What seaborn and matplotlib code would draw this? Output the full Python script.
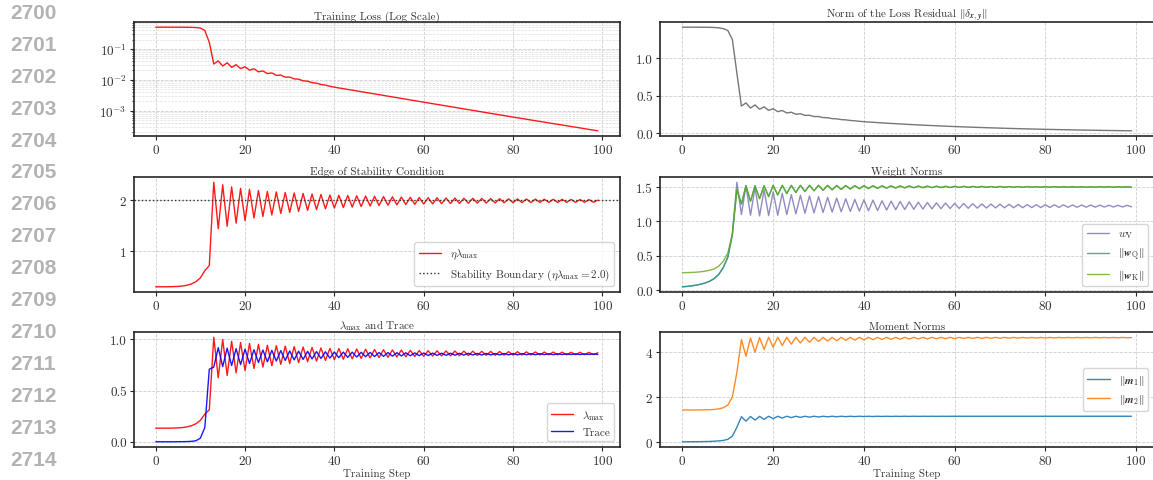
import io
import matplotlib
matplotlib.use("Agg")
import matplotlib.pyplot as plt
from matplotlib import mathtext
from matplotlib.ticker import LogLocator, NullFormatter, FixedLocator
import numpy as np
import pandas as pd
import seaborn as sns

# ---------------- data ----------------
steps = list(range(100))

train_loss = [
    0.4999, 0.4999, 0.4999, 0.4999, 0.4992, 0.4992, 0.4984, 0.4970, 0.4935, 0.4865,
    0.4692, 0.3906, 0.1600, 0.0324, 0.0406, 0.02789, 0.03534, 0.02528, 0.03063, 0.02295,
    0.02641, 0.02045, 0.02265, 0.01809, 0.01932, 0.01588, 0.01664, 0.01392, 0.01416, 0.01216,
    0.01221, 0.01066, 0.01051, 0.009264, 0.009025, 0.0081, 0.007788, 0.007056, 0.006724, 0.006162,
    0.005776, 0.005461, 0.00517, 0.004886, 0.004624, 0.004369, 0.004134, 0.003913, 0.003697, 0.003499,
    0.003306, 0.00313, 0.002959, 0.002798, 0.002647, 0.002505, 0.002367, 0.002242, 0.002121, 0.002003,
    0.001892, 0.001789, 0.001693, 0.001604, 0.001517, 0.001436, 0.001358, 0.001285, 0.001215, 0.001149,
    0.001089, 0.00103, 0.000973, 0.000921, 0.00087, 0.000824, 0.000781, 0.000737, 0.0007, 0.00066,
    0.000625, 0.000593, 0.000562, 0.000531, 0.000504, 0.000477, 0.000452, 0.000428, 0.000406, 0.000384,
    0.000365, 0.000346, 0.000328, 0.00031, 0.000294, 0.000279, 0.000264, 0.00025, 0.000237, 0.000225,
]

residual_norm = [
    1.414, 1.414, 1.414, 1.414, 1.413, 1.413, 1.412, 1.410, 1.405, 1.395,
    1.370, 1.250, 0.800, 0.360, 0.403, 0.334, 0.376, 0.318, 0.350, 0.303,
    0.325, 0.286, 0.301, 0.269, 0.278, 0.252, 0.258, 0.236, 0.238, 0.2205,
    0.221, 0.2065, 0.205, 0.1925, 0.190, 0.180, 0.1765, 0.168, 0.164, 0.157,
    0.152, 0.1478, 0.1438, 0.1398, 0.1360, 0.1322, 0.1286, 0.1251, 0.1216, 0.1183,
    0.1150, 0.1119, 0.1088, 0.1058, 0.1029, 0.1001, 0.0973, 0.0947, 0.0921, 0.0895,
    0.0870, 0.0846, 0.0823, 0.0801, 0.0779, 0.0758, 0.0737, 0.0717, 0.0697, 0.0678,
    0.0660, 0.0642, 0.0624, 0.0607, 0.0590, 0.0574, 0.0559, 0.0543, 0.0529, 0.0514,
    0.0500, 0.0487, 0.0474, 0.0461, 0.0449, 0.0437, 0.0425, 0.0414, 0.0403, 0.0392,
    0.0382, 0.0372, 0.0362, 0.0352, 0.0343, 0.0334, 0.0325, 0.0316, 0.0308, 0.0300,
]

eta_lambda_max = [
    0.305, 0.305, 0.305, 0.306, 0.308, 0.312, 0.320, 0.335, 0.360, 0.405,
    0.480, 0.620, 0.720, 2.350, 1.440, 2.300, 1.490, 2.260, 1.550, 2.230,
    1.600, 2.210, 1.650, 2.190, 1.680, 2.170, 1.710, 2.160, 1.740, 2.150,
    1.760, 2.140, 1.780, 2.130, 1.800, 2.120, 1.815, 2.110, 1.830, 2.100,
    1.845, 2.095, 1.855, 2.090, 1.865, 2.085, 1.875, 2.080, 1.885, 2.075,
    1.893, 2.070, 1.900, 2.065, 1.907, 2.060, 1.913, 2.055, 1.918, 2.050,
    1.923, 2.048, 1.927, 2.045, 1.930, 2.042, 1.933, 2.040, 1.936, 2.037,
    1.939, 2.035, 1.941, 2.033, 1.943, 2.030, 1.945, 2.028, 1.947, 2.026,
    1.949, 2.024, 1.951, 2.022, 1.952, 2.020, 1.953, 2.018, 1.954, 2.016,
    1.955, 2.015, 1.956, 2.013, 1.957, 2.012, 1.958, 2.010, 1.959, 2.000,
]
stability_boundary = 2.0

lambda_max = [
    0.133, 0.133, 0.133, 0.133, 0.134, 0.136, 0.139, 0.146, 0.157, 0.176,
    0.209, 0.270, 0.313, 1.022, 0.626, 1.000, 0.648, 0.983, 0.674, 0.970,
    0.696, 0.961, 0.717, 0.952, 0.730, 0.943, 0.743, 0.939, 0.757, 0.935,
    0.765, 0.930, 0.774, 0.926, 0.783, 0.922, 0.789, 0.917, 0.796, 0.913,
    0.802, 0.911, 0.807, 0.909, 0.811, 0.907, 0.815, 0.904, 0.820, 0.902,
    0.823, 0.900, 0.826, 0.898, 0.829, 0.896, 0.832, 0.893, 0.834, 0.891,
    0.836, 0.890, 0.838, 0.889, 0.839, 0.888, 0.840, 0.887, 0.842, 0.886,
    0.843, 0.885, 0.844, 0.884, 0.845, 0.883, 0.846, 0.882, 0.847, 0.881,
    0.847, 0.880, 0.848, 0.879, 0.849, 0.878, 0.849, 0.877, 0.850, 0.877,
    0.850, 0.876, 0.850, 0.875, 0.851, 0.875, 0.851, 0.874, 0.852, 0.870,
]

hessian_trace = [
    0.000, 0.000, 0.000, 0.000, 0.000, 0.001, 0.001, 0.002, 0.004, 0.010,
    0.035, 0.140, 0.710, 0.730, 0.920, 0.735, 0.915, 0.745, 0.910, 0.755,
    0.905, 0.765, 0.900, 0.775, 0.897, 0.782, 0.894, 0.789, 0.891, 0.795,
    0.888, 0.800, 0.886, 0.805, 0.884, 0.810, 0.882, 0.814, 0.880, 0.818,
    0.878, 0.822, 0.877, 0.825, 0.876, 0.828, 0.875, 0.831, 0.874, 0.833,
    0.873, 0.835, 0.872, 0.837, 0.871, 0.839, 0.870, 0.841, 0.869, 0.842,
    0.868, 0.843, 0.867, 0.844, 0.866, 0.845, 0.866, 0.846, 0.865, 0.847,
    0.865, 0.848, 0.864, 0.848, 0.864, 0.849, 0.863, 0.849, 0.863, 0.850,
    0.862, 0.850, 0.862, 0.851, 0.861, 0.851, 0.861, 0.852, 0.860, 0.852,
    0.860, 0.853, 0.859, 0.853, 0.859, 0.853, 0.858, 0.854, 0.858, 0.854,
]

w_v = [
    0.050, 0.055, 0.063, 0.073, 0.087, 0.105, 0.130, 0.170, 0.230, 0.330,
    0.480, 0.820, 1.570, 1.100, 1.520, 1.090, 1.490, 1.080, 1.460, 1.085,
    1.430, 1.090, 1.410, 1.100, 1.390, 1.110, 1.380, 1.120, 1.370, 1.125,
    1.360, 1.130, 1.350, 1.135, 1.340, 1.140, 1.330, 1.145, 1.320, 1.150,
    1.315, 1.155, 1.310, 1.160, 1.300, 1.165, 1.295, 1.170, 1.290, 1.173,
    1.285, 1.176, 1.280, 1.179, 1.275, 1.182, 1.270, 1.185, 1.267, 1.187,
    1.264, 1.189, 1.261, 1.191, 1.258, 1.193, 1.255, 1.195, 1.253, 1.197,
    1.251, 1.198, 1.249, 1.199, 1.247, 1.200, 1.245, 1.201, 1.244, 1.202,
    1.243, 1.203, 1.242, 1.204, 1.241, 1.205, 1.240, 1.206, 1.239, 1.207,
    1.238, 1.208, 1.237, 1.209, 1.236, 1.210, 1.235, 1.210, 1.234, 1.212,
]

w_q = [
    0.050, 0.055, 0.063, 0.073, 0.087, 0.105, 0.130, 0.170, 0.230, 0.330,
    0.480, 0.800, 1.450, 1.250, 1.520, 1.290, 1.520, 1.330, 1.520, 1.360,
    1.525, 1.385, 1.525, 1.405, 1.525, 1.420, 1.525, 1.435, 1.525, 1.445,
    1.525, 1.453, 1.524, 1.460, 1.523, 1.466, 1.522, 1.471, 1.521, 1.475,
    1.520, 1.478, 1.519, 1.481, 1.518, 1.484, 1.517, 1.486, 1.516, 1.488,
    1.515, 1.490, 1.514, 1.491, 1.513, 1.492, 1.512, 1.493, 1.511, 1.494,
    1.510, 1.495, 1.510, 1.495, 1.509, 1.496, 1.509, 1.496, 1.508, 1.496,
    1.508, 1.497, 1.507, 1.497, 1.507, 1.497, 1.507, 1.497, 1.506, 1.497,
    1.506, 1.498, 1.506, 1.498, 1.506, 1.498, 1.505, 1.498, 1.505, 1.498,
    1.505, 1.498, 1.505, 1.498, 1.505, 1.498, 1.505, 1.498, 1.505, 1.498,
]

w_k = [
    0.255, 0.256, 0.258, 0.262, 0.268, 0.277, 0.290, 0.310, 0.350, 0.420,
    0.540, 0.820, 1.470, 1.260, 1.515, 1.295, 1.518, 1.332, 1.519, 1.362,
    1.524, 1.386, 1.524, 1.406, 1.524, 1.421, 1.524, 1.436, 1.524, 1.446,
    1.524, 1.454, 1.523, 1.461, 1.522, 1.467, 1.521, 1.472, 1.520, 1.476,
    1.519, 1.479, 1.518, 1.482, 1.517, 1.485, 1.516, 1.487, 1.515, 1.489,
    1.514, 1.490, 1.513, 1.491, 1.512, 1.492, 1.511, 1.493, 1.510, 1.494,
    1.509, 1.495, 1.509, 1.495, 1.508, 1.496, 1.508, 1.496, 1.507, 1.496,
    1.507, 1.497, 1.506, 1.497, 1.506, 1.497, 1.506, 1.497, 1.505, 1.497,
    1.505, 1.498, 1.505, 1.498, 1.505, 1.498, 1.504, 1.498, 1.504, 1.498,
    1.504, 1.498, 1.504, 1.498, 1.504, 1.498, 1.504, 1.498, 1.504, 1.498,
]

m1_norm = [
    0.000, 0.000, 0.002, 0.004, 0.007, 0.010, 0.015, 0.025, 0.040, 0.060,
    0.110, 0.250, 0.650, 1.120, 0.920, 1.130, 0.970, 1.135, 1.000, 1.140,
    1.030, 1.140, 1.060, 1.140, 1.080, 1.140, 1.090, 1.140, 1.100, 1.140,
    1.108, 1.140, 1.114, 1.140, 1.118, 1.140, 1.122, 1.140, 1.125, 1.140,
    1.127, 1.140, 1.129, 1.140, 1.131, 1.140, 1.132, 1.140, 1.133, 1.140,
    1.134, 1.140, 1.135, 1.140, 1.136, 1.140, 1.136, 1.140, 1.137, 1.140,
    1.137, 1.140, 1.138, 1.140, 1.138, 1.140, 1.138, 1.140, 1.139, 1.140,
    1.139, 1.140, 1.139, 1.140, 1.139, 1.140, 1.139, 1.140, 1.139, 1.140,
    1.139, 1.140, 1.139, 1.140, 1.139, 1.140, 1.139, 1.140, 1.139, 1.140,
    1.139, 1.140, 1.139, 1.140, 1.139, 1.140, 1.139, 1.140, 1.139, 1.140,
]

m2_norm = [
    1.420, 1.420, 1.420, 1.421, 1.423, 1.426, 1.432, 1.445, 1.470, 1.520,
    1.640, 2.000, 3.100, 4.570, 3.820, 4.640, 4.000, 4.660, 4.120, 4.670,
    4.220, 4.670, 4.300, 4.670, 4.360, 4.670, 4.410, 4.670, 4.450, 4.665,
    4.480, 4.665, 4.500, 4.665, 4.515, 4.665, 4.530, 4.665, 4.540, 4.665,
    4.550, 4.665, 4.560, 4.665, 4.568, 4.665, 4.575, 4.665, 4.582, 4.665,
    4.588, 4.664, 4.593, 4.664, 4.598, 4.664, 4.602, 4.664, 4.606, 4.664,
    4.610, 4.663, 4.614, 4.663, 4.617, 4.663, 4.620, 4.663, 4.623, 4.662,
    4.625, 4.662, 4.628, 4.662, 4.630, 4.662, 4.632, 4.661, 4.634, 4.661,
    4.636, 4.661, 4.638, 4.661, 4.639, 4.660, 4.641, 4.660, 4.642, 4.660,
    4.643, 4.660, 4.644, 4.659, 4.645, 4.659, 4.646, 4.659, 4.647, 4.655,
]

x_ticks = [0, 20, 40, 60, 80, 100]
line_numbers = [str(n) for n in range(2700, 2715)]

# ---------------- style ----------------
sns.set_theme(style="whitegrid")
plt.rcParams.update({
    "font.family": "serif",
    "font.serif": ["cmr10", "DejaVu Serif"],
    "mathtext.fontset": "cm",
    "axes.formatter.use_mathtext": True,
    "axes.unicode_minus": False,
    "axes.facecolor": "white",
    "axes.edgecolor": "#262626",
    "axes.linewidth": 1.2,
    "grid.color": "#cfcfcf",
    "grid.linestyle": "--",
    "grid.linewidth": 0.6,
    "xtick.bottom": True,
    "ytick.left": True,
    "xtick.major.size": 3,
    "ytick.major.size": 3,
    "xtick.major.width": 0.8,
    "ytick.major.width": 0.8,
    "ytick.minor.size": 1.8,
    "ytick.minor.width": 0.6,
    "xtick.color": "#262626",
    "ytick.color": "#262626",
    "xtick.labelcolor": "#333333",
    "ytick.labelcolor": "#333333",
    "xtick.major.pad": 2,
    "ytick.major.pad": 2,
    "xtick.labelsize": 9.5,
    "ytick.labelsize": 9.5,
})


def _ok(expr):
    try:
        mathtext.math_to_image(expr, io.BytesIO(), dpi=72, format="png")
        return True
    except Exception:
        return False


if _ok(r"$\mathbfit{w}$"):
    BF = r"\mathbfit"
elif _ok(r"$\boldsymbol{w}$"):
    BF = r"\boldsymbol"
else:
    BF = r"\mathbf"


def bf(s):
    return BF + "{" + s + "}"


fig = plt.figure(figsize=(11.53, 4.81), dpi=100)

W, H = 1153.0, 481.0
col_x = [(133.6, 620.0), (660.0, 1154.0)]
row_y = [(23.0, 137.0), (178.0, 293.0), (333.0, 448.0)]
axes = {}
for r, (yt, yb) in enumerate(row_y):
    for c, (xl, xr) in enumerate(col_x):
        axes[(r, c)] = fig.add_axes([xl / W, 1 - yb / H, (xr - xl) / W, (yb - yt) / H])

TITLE_FS = 8
LEG_FS = 8
LW = 1.0


def finish(ax, title, yticks=None, xlabel=False):
    ax.set_title(title, fontsize=TITLE_FS, pad=2, color="#333333")
    ax.set_xticks(x_ticks)
    if yticks is not None:
        ax.set_yticks(yticks)
    ax.set_xlabel("Training Step" if xlabel else "", fontsize=8, labelpad=1, color="#333333")
    ax.set_ylabel("")
    ax.grid(True, which="major", linestyle="--", linewidth=0.6, color="#cfcfcf")
    for s in ax.spines.values():
        s.set_color("#262626")
        s.set_linewidth(1.2)


def legend(ax, loc):
    leg = ax.legend(loc=loc, fontsize=LEG_FS, frameon=True, framealpha=0.8,
                    edgecolor="#cccccc", fancybox=True)
    for t in leg.get_texts():
        t.set_color("#333333")


# 1. Training loss (log)
ax = axes[(0, 0)]
sns.lineplot(x=steps, y=train_loss, ax=ax, color="#ff0000", lw=LW, alpha=0.9)
ax.set_yscale("log")
ax.yaxis.set_major_locator(FixedLocator([1e-3, 1e-2, 1e-1]))
ax.yaxis.set_minor_locator(LogLocator(base=10, subs=np.arange(2, 10), numticks=100))
ax.yaxis.set_minor_formatter(NullFormatter())
finish(ax, "Training Loss (Log Scale)")
ax.grid(True, which="minor", linestyle="--", linewidth=0.5, color="#dedede")

# 2. Residual norm
ax = axes[(0, 1)]
sns.lineplot(x=steps, y=residual_norm, ax=ax, color="#555555", lw=LW, alpha=0.8)
finish(ax, r"Norm of the Loss Residual $\|\delta_{" + bf("x") + "," + bf("y") + r"}\|$",
       yticks=[0.0, 0.5, 1.0])
ax.set_yticklabels(["0.0", "0.5", "1.0"])

# 3. Edge of stability
ax = axes[(1, 0)]
sns.lineplot(x=steps, y=eta_lambda_max, ax=ax, color="#ff0000", lw=LW, alpha=0.9,
             label=r"$\eta\lambda_{\max}$")
ax.axhline(stability_boundary, color="#333333", linestyle=":", lw=1.0,
           label=r"Stability Boundary ($\eta\lambda_{\max} = 2.0$)")
finish(ax, "Edge of Stability Condition", yticks=[1, 2])
legend(ax, "lower right")

# 4. Weight norms
ax = axes[(1, 1)]
sns.lineplot(x=steps, y=w_v, ax=ax, color="#7570b3", lw=LW, alpha=0.8,
             label=r"$w_{\mathrm{V}}$")
sns.lineplot(x=steps, y=w_q, ax=ax, color="#1b9e77", lw=LW, alpha=0.8,
             label=r"$\|" + bf("w") + r"_{\mathrm{Q}}\|$")
sns.lineplot(x=steps, y=w_k, ax=ax, color="#66a61e", lw=LW, alpha=0.8,
             label=r"$\|" + bf("w") + r"_{\mathrm{K}}\|$")
finish(ax, "Weight Norms", yticks=[0.0, 0.5, 1.0, 1.5])
ax.set_yticklabels(["0.0", "0.5", "1.0", "1.5"])
legend(ax, "lower right")

# 5. lambda max and trace
ax = axes[(2, 0)]
sns.lineplot(x=steps, y=lambda_max, ax=ax, color="#ff0000", lw=LW, alpha=0.9,
             label=r"$\lambda_{\max}$")
sns.lineplot(x=steps, y=hessian_trace, ax=ax, color="#0000ff", lw=LW, alpha=0.9,
             label="Trace")
finish(ax, r"$\lambda_{\max}$ and Trace", yticks=[0.0, 0.5, 1.0], xlabel=True)
ax.set_yticklabels(["0.0", "0.5", "1.0"])
legend(ax, "lower right")

# 6. Moment norms
ax = axes[(2, 1)]
sns.lineplot(x=steps, y=m1_norm, ax=ax, color="#1f77b4", lw=LW, alpha=0.9,
             label=r"$\|" + bf("m") + r"_1\|$")
sns.lineplot(x=steps, y=m2_norm, ax=ax, color="#ff7f0e", lw=LW, alpha=0.9,
             label=r"$\|" + bf("m") + r"_2\|$")
finish(ax, "Moment Norms", yticks=[0, 2, 4], xlabel=True)
legend(ax, "center right")

# line numbers in the left margin
for i, txt in enumerate(line_numbers):
    fig.text(10 / W, 1 - (13.5 + 31.9 * i) / H, txt, fontsize=15, fontweight="bold",
             color="#b3b3b3", family=["Liberation Sans", "DejaVu Sans"],
             ha="left", va="center")

fig.savefig("out.png", dpi=100)
